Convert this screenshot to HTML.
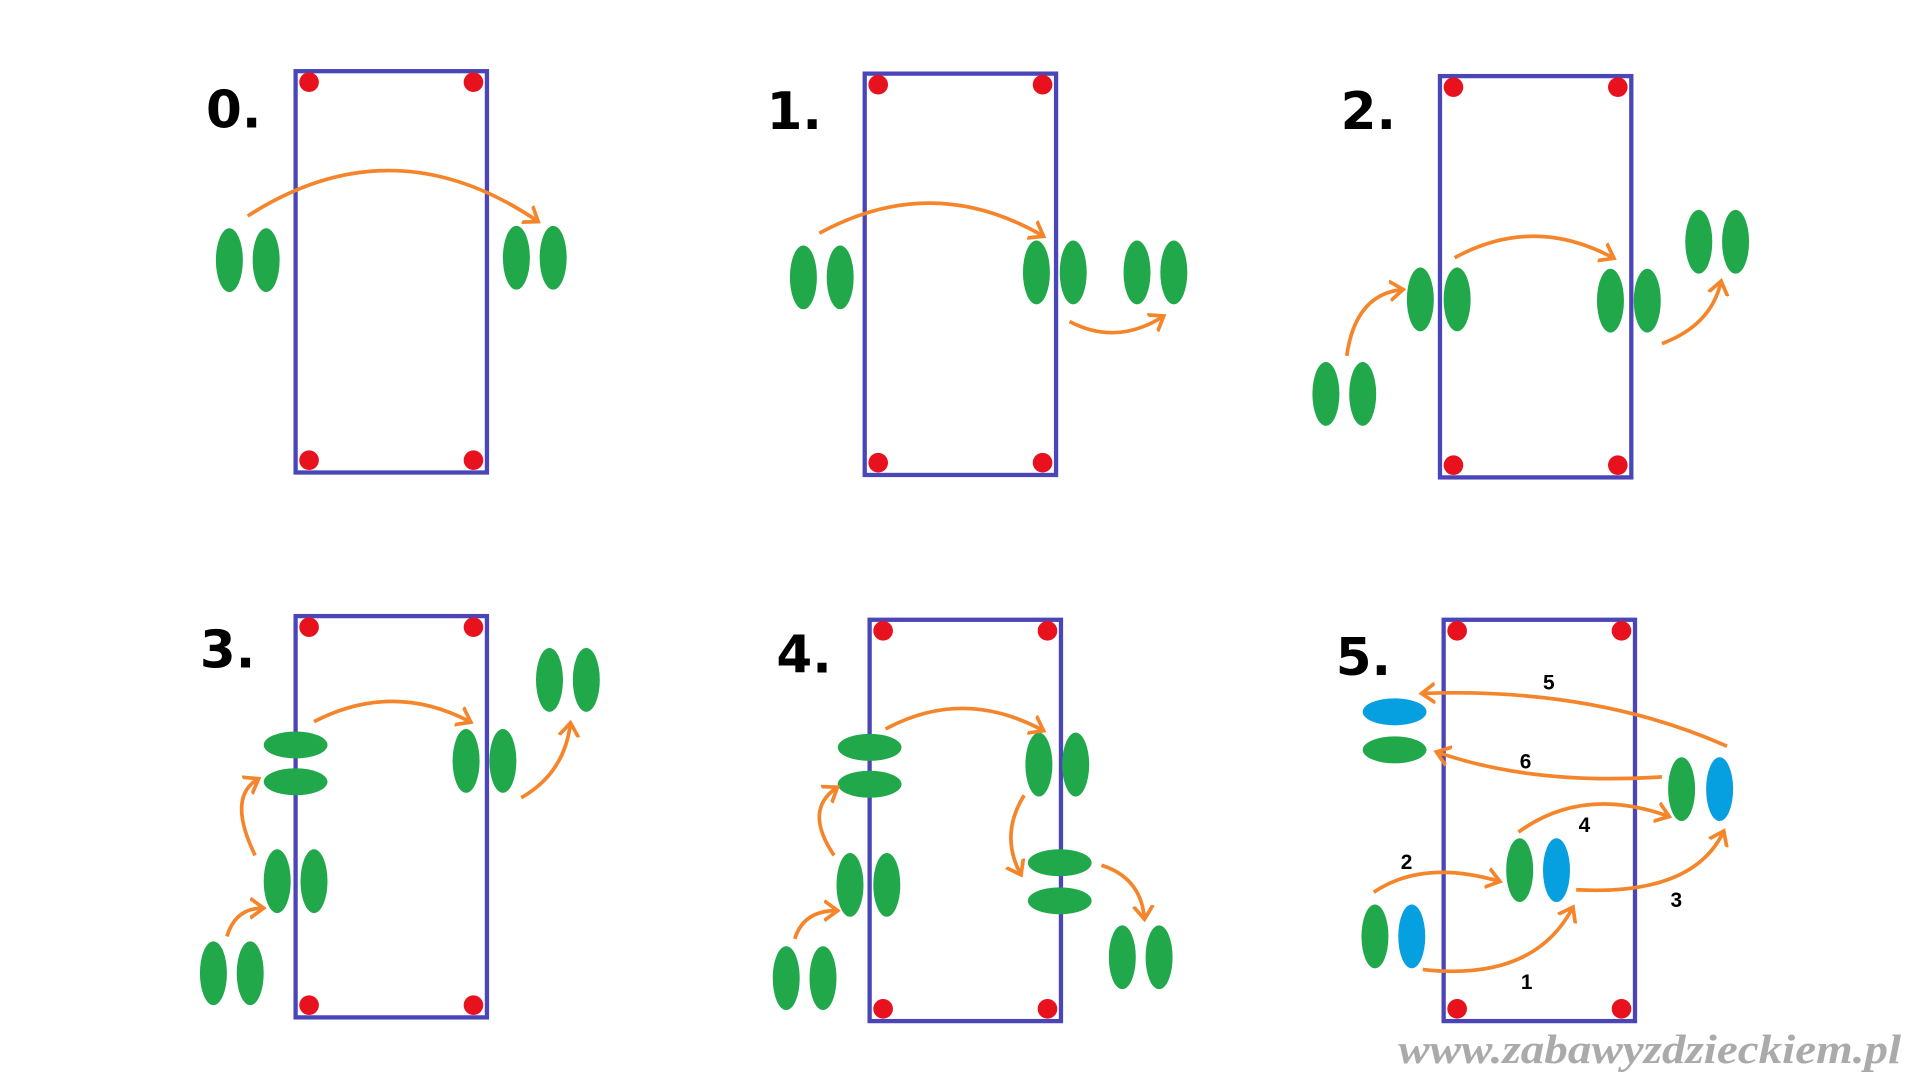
<!DOCTYPE html>
<html><head><meta charset="utf-8"><style>
html,body{margin:0;padding:0;background:#fff;width:1922px;height:1080px;overflow:hidden}
svg{display:block}
.r{fill:none;stroke:#4a46b8;stroke-width:3.5}
.d{fill:#e8121e}
.g{fill:#21a84a}
.b{fill:#069fe0}
.a{fill:none;stroke:#f5852a;stroke-width:3;marker-end:url(#m)}
.n{font-family:"DejaVu Sans","Liberation Sans",sans-serif;font-weight:bold;font-size:42px;fill:#000}
.s{font-family:"Liberation Sans",sans-serif;font-weight:bold;font-size:17px;fill:#000}
</style></head><body>
<svg width="1922" height="1080" viewBox="0 0 1567 880" preserveAspectRatio="none" xmlns="http://www.w3.org/2000/svg">
<defs><marker id="m" markerUnits="userSpaceOnUse" markerWidth="20" markerHeight="20" refX="10" refY="8" orient="auto" viewBox="0 0 20 16">
<path d="M0,0 L11,8 L0,16" fill="none" stroke="#f5852a" stroke-width="3"/></marker></defs>

<!-- Panel 0 -->
<text class="n" x="168" y="104">0.</text>
<rect class="r" x="241" y="58" width="156" height="327"/>
<circle class="d" cx="252" cy="67" r="8"/><circle class="d" cx="386" cy="67" r="8"/>
<circle class="d" cx="252" cy="375" r="8"/><circle class="d" cx="386" cy="375" r="8"/>
<ellipse class="g" cx="187" cy="212" rx="11" ry="26"/><ellipse class="g" cx="217" cy="212" rx="11" ry="26"/>
<ellipse class="g" cx="421" cy="210" rx="11" ry="26"/><ellipse class="g" cx="451" cy="210" rx="11" ry="26"/>
<path class="a" d="M202,176 Q320,100 438,180"/>

<!-- Panel 1 -->
<text class="n" x="625" y="105">1.</text>
<rect class="r" x="705" y="60" width="156" height="327"/>
<circle class="d" cx="716" cy="69" r="8"/><circle class="d" cx="850" cy="69" r="8"/>
<circle class="d" cx="716" cy="377" r="8"/><circle class="d" cx="850" cy="377" r="8"/>
<ellipse class="g" cx="655" cy="226" rx="11" ry="26"/><ellipse class="g" cx="685" cy="226" rx="11" ry="26"/>
<ellipse class="g" cx="845" cy="222" rx="11" ry="26"/><ellipse class="g" cx="875" cy="222" rx="11" ry="26"/>
<ellipse class="g" cx="927" cy="222" rx="11" ry="26"/><ellipse class="g" cx="957" cy="222" rx="11" ry="26"/>
<path class="a" d="M668,190 Q760,140 850,192"/>
<path class="a" d="M872,262 Q910,282 948,258"/>

<!-- Panel 2 -->
<text class="n" x="1093" y="105">2.</text>
<rect class="r" x="1174" y="62" width="156" height="327"/>
<circle class="d" cx="1185" cy="71" r="8"/><circle class="d" cx="1319" cy="71" r="8"/>
<circle class="d" cx="1185" cy="379" r="8"/><circle class="d" cx="1319" cy="379" r="8"/>
<ellipse class="g" cx="1081" cy="321" rx="11" ry="26"/><ellipse class="g" cx="1111" cy="321" rx="11" ry="26"/>
<ellipse class="g" cx="1158" cy="244" rx="11" ry="26"/><ellipse class="g" cx="1188" cy="244" rx="11" ry="26"/>
<ellipse class="g" cx="1313" cy="245" rx="11" ry="26"/><ellipse class="g" cx="1343" cy="245" rx="11" ry="26"/>
<ellipse class="g" cx="1385" cy="197" rx="11" ry="26"/><ellipse class="g" cx="1415" cy="197" rx="11" ry="26"/>
<path class="a" d="M1098,290 Q1105,240 1143,236"/>
<path class="a" d="M1186,210 Q1250,175 1315,210"/>
<path class="a" d="M1355,280 Q1395,265 1403,230"/>

<!-- Panel 3 -->
<text class="n" x="163" y="544">3.</text>
<rect class="r" x="241" y="502" width="156" height="327"/>
<circle class="d" cx="252" cy="511" r="8"/><circle class="d" cx="386" cy="511" r="8"/>
<circle class="d" cx="252" cy="819" r="8"/><circle class="d" cx="386" cy="819" r="8"/>
<ellipse class="g" cx="174" cy="793" rx="11" ry="26"/><ellipse class="g" cx="204" cy="793" rx="11" ry="26"/>
<ellipse class="g" cx="226" cy="718" rx="11" ry="26"/><ellipse class="g" cx="256" cy="718" rx="11" ry="26"/>
<ellipse class="g" cx="241" cy="607" rx="26" ry="11"/><ellipse class="g" cx="241" cy="637" rx="26" ry="11"/>
<ellipse class="g" cx="380" cy="620" rx="11" ry="26"/><ellipse class="g" cx="410" cy="620" rx="11" ry="26"/>
<ellipse class="g" cx="448" cy="554" rx="11" ry="26"/><ellipse class="g" cx="478" cy="554" rx="11" ry="26"/>
<path class="a" d="M185,763 Q192,740 214,740"/>
<path class="a" d="M208,697 Q185,650 210,635"/>
<path class="a" d="M256,588 Q320,555 383,588"/>
<path class="a" d="M425,650 Q460,630 465,590"/>

<!-- Panel 4 -->
<text class="n" x="633" y="548">4.</text>
<rect class="r" x="709" y="505" width="156" height="327"/>
<circle class="d" cx="720" cy="514" r="8"/><circle class="d" cx="854" cy="514" r="8"/>
<circle class="d" cx="720" cy="822" r="8"/><circle class="d" cx="854" cy="822" r="8"/>
<ellipse class="g" cx="641" cy="797" rx="11" ry="26"/><ellipse class="g" cx="671" cy="797" rx="11" ry="26"/>
<ellipse class="g" cx="693" cy="721" rx="11" ry="26"/><ellipse class="g" cx="723" cy="721" rx="11" ry="26"/>
<ellipse class="g" cx="709" cy="609" rx="26" ry="11"/><ellipse class="g" cx="709" cy="639" rx="26" ry="11"/>
<ellipse class="g" cx="847" cy="623" rx="11" ry="26"/><ellipse class="g" cx="877" cy="623" rx="11" ry="26"/>
<ellipse class="g" cx="864" cy="703" rx="26" ry="11"/><ellipse class="g" cx="864" cy="734" rx="26" ry="11"/>
<ellipse class="g" cx="915" cy="780" rx="11" ry="26"/><ellipse class="g" cx="945" cy="780" rx="11" ry="26"/>
<path class="a" d="M648,765 Q655,742 682,742"/>
<path class="a" d="M680,697 Q655,660 682,642"/>
<path class="a" d="M722,594 Q785,560 850,595"/>
<path class="a" d="M835,648 Q815,680 832,712"/>
<path class="a" d="M898,705 Q930,715 933,748"/>

<!-- Panel 5 -->
<text class="n" x="1089" y="550">5.</text>
<rect class="r" x="1177" y="505" width="156" height="327"/>
<circle class="d" cx="1188" cy="514" r="8"/><circle class="d" cx="1322" cy="514" r="8"/>
<circle class="d" cx="1188" cy="822" r="8"/><circle class="d" cx="1322" cy="822" r="8"/>
<ellipse class="b" cx="1137" cy="580" rx="26" ry="11"/><ellipse class="g" cx="1137" cy="611" rx="26" ry="11"/>
<ellipse class="g" cx="1121" cy="763" rx="11" ry="26"/><ellipse class="b" cx="1151" cy="763" rx="11" ry="26"/>
<ellipse class="g" cx="1239" cy="709" rx="11" ry="26"/><ellipse class="b" cx="1269" cy="709" rx="11" ry="26"/>
<ellipse class="g" cx="1371" cy="643" rx="11" ry="26"/><ellipse class="b" cx="1402" cy="643" rx="11" ry="26"/>
<path class="a" d="M1408,608 Q1300,560 1160,565"/>
<path class="a" d="M1355,633 Q1250,640 1172,613"/>
<path class="a" d="M1238,678 Q1290,640 1360,665"/>
<path class="a" d="M1120,727 Q1160,700 1222,718"/>
<path class="a" d="M1285,725 Q1380,730 1405,678"/>
<path class="a" d="M1160,790 Q1250,800 1282,740"/>
<text class="s" x="1258" y="562">5</text>
<text class="s" x="1239" y="626">6</text>
<text class="s" x="1287" y="678">4</text>
<text class="s" x="1142" y="708">2</text>
<text class="s" x="1362" y="739">3</text>
<text class="s" x="1240" y="806">1</text>

<text x="1140" y="866" font-family="Liberation Serif, serif" font-style="italic" font-weight="bold" font-size="34" fill="#aaaaaa" textLength="410" lengthAdjust="spacingAndGlyphs">www.zabawyzdzieckiem.pl</text>
</svg>
</body></html>
